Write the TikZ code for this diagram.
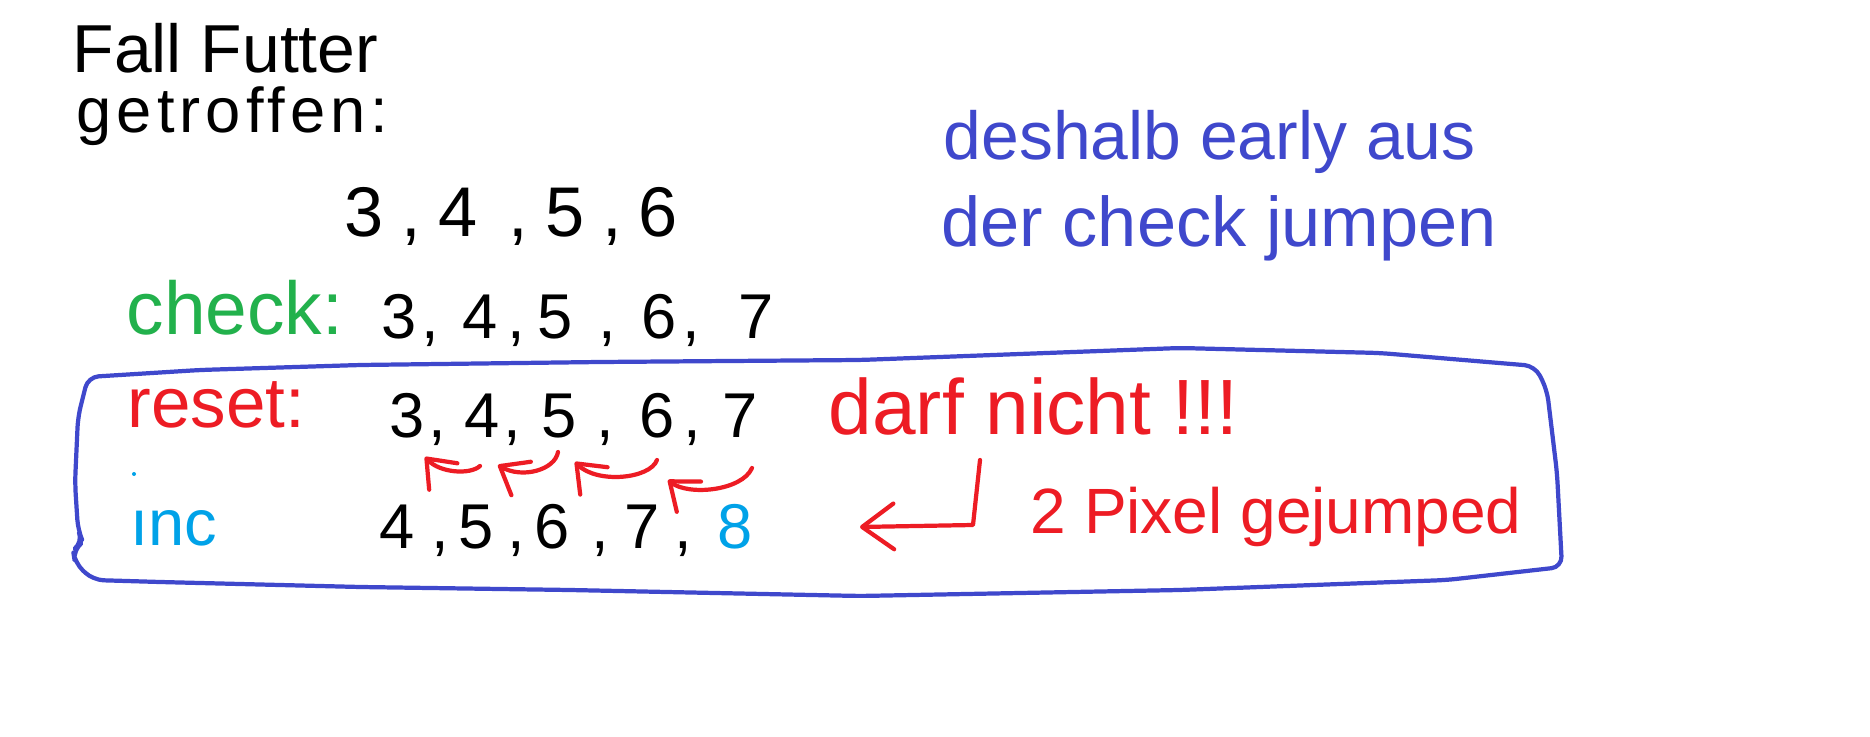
\documentclass[tikz,border=0pt]{standalone}
\usepackage{fontspec}
\setmainfont{Liberation Sans}
\usepackage{xcolor}
\definecolor{pntIndigo}{RGB}{ 63,  72, 204}
\definecolor{pntRed}   {RGB}{237,  28,  36}
\definecolor{pntGreen} {RGB}{ 34, 177,  76}
\definecolor{pntTurq}  {RGB}{  0, 162, 232}
\usepackage{tikz}
\usetikzlibrary{
  arrows.meta,
}

\begin{document}
\begin{tikzpicture}[
  x=0.01cm, y=-0.01cm,
  >={Straight Barb[length=7pt,width=11pt,round]},
  pen/.style={line width=1.2pt, line cap=round, line join=round},
  hand/.style={inner sep=0pt, anchor=base west},
  num/.style={inner sep=0pt, anchor=base, font=\fontsize{18}{22}\selectfont},
]
  \fill[white] (0,0) rectangle (1870,737);
  \useasboundingbox (0,0) rectangle (1870,737);

  % Heading
  \node[hand, text depth=0pt, font=\fontsize{19.3}{23}\selectfont] (head1) at (72,73) {Fall Futter};
  \node[hand, font=\fontsize{18}{22}\selectfont\addfontfeature{LetterSpace=8}] (head2) at (76,133) {getroffen:};

  % Hit row
  \foreach \d/\x in {3/364,4/458,5/565,6/658}
    \node[num, font=\fontsize{20}{24}\selectfont] (h\d) at (\x,237) {\d};
  \foreach \i/\x in {1/411,2/518,3/612}
    \node[num, font=\fontsize{20}{24}\selectfont] (hc\i) at (\x,237) {,};

  % Check row
  \node[hand, text=pntGreen, font=\fontsize{21.3}{25}\selectfont] (chk) at (126,335) {check:};
  \foreach \d/\x in {3/399,4/480,5/555,6/659,7/756}
    \node[num] (c\d) at (\x,339) {\d};
  \foreach \i/\x in {1/430,2/516,3/607,4/691}
    \node[num] (cc\i) at (\x,339) {,};

  % Note
  \node[hand, text=pntIndigo, font=\fontsize{19.3}{23}\selectfont] (why1) at (943,160) {deshalb early aus};
  \node[hand, text=pntIndigo, font=\fontsize{20}{24}\selectfont] (why2) at (941,247) {der check jumpen};

  % Frame
  \draw[pen, pntIndigo, rounded corners=3pt]
    (88,377) -- (200,370) -- (360,365) -- (600,362) -- (860,360) -- (1180,348)
    -- (1380,353) -- (1535,366) -- (1547,390) -- (1557,473) -- (1562,567)
    -- (1447,580) -- (1180,590) -- (860,596) -- (570,590) -- (360,587)
    -- (160,582) -- (93,580) -- (75,563) -- (73,550) -- (83,542) -- (78,530)
    -- (75,483) -- (78,417) -- cycle;

  % Reset row
  \node[hand, text=pntRed, font=\fontsize{20.2}{24}\selectfont] (rst) at (127,427) {reset:};
  \foreach \d/\x in {3/407,4/482,5/559,6/657,7/740}
    \node[num] (r\d) at (\x,437) {\d};
  \foreach \i/\x in {1/437,2/512,3/605,4/692}
    \node[num] (rc\i) at (\x,437) {,};
  \node[hand, text=pntRed, font=\fontsize{22.3}{26}\selectfont] (bad) at (828,435) {darf nicht !!!};

  % Shift arrows
  \coordinate (s1) at (480,466); \coordinate (t1) at (425,457);
  \coordinate (s2) at (558,452); \coordinate (t2) at (498,465);
  \coordinate (s3) at (657,460); \coordinate (t3) at (575,462);
  \coordinate (s4) at (752,468); \coordinate (t4) at (668,480);
  \draw[pen, pntRed, ->] (s1) .. controls (470,475) and (440,473) .. (t1);
  \draw[pen, pntRed, ->] (s2) .. controls (555,470) and (522,479) .. (t2);
  \draw[pen, pntRed, ->] (s3) .. controls (650,479) and (597,484) .. (t3);
  \draw[pen, pntRed, ->] (s4) .. controls (742,491) and (688,496) .. (t4);

  % Inc row
  \fill[pntTurq] (134,474) circle (2);
  \node[hand, text=pntTurq, font=\fontsize{18.5}{22}\selectfont] (inc) at (130,545) {ınc};
  \foreach \d/\x in {4/397,5/476,6/552,7/642}
    \node[num] (i\d) at (\x,548) {\d};
  \node[num, text=pntTurq] (i8) at (735,548) {8};
  \foreach \i/\x in {1/440,2/516,3/600,4/683}
    \node[num] (ic\i) at (\x,548) {,};

  % Jump remark
  \coordinate (hookTop) at (980,460);
  \coordinate (hookTip) at (860,527);
  \draw[pen, pntRed, -{Straight Barb[length=9pt,width=13pt,round]}]
    (hookTop) -- (973,525) -- (hookTip);
  \node[hand, text=pntRed, font=\fontsize{18.2}{22}\selectfont] (jmp) at (1030,533) {2 Pixel gejumped};

\end{tikzpicture}
\end{document}
